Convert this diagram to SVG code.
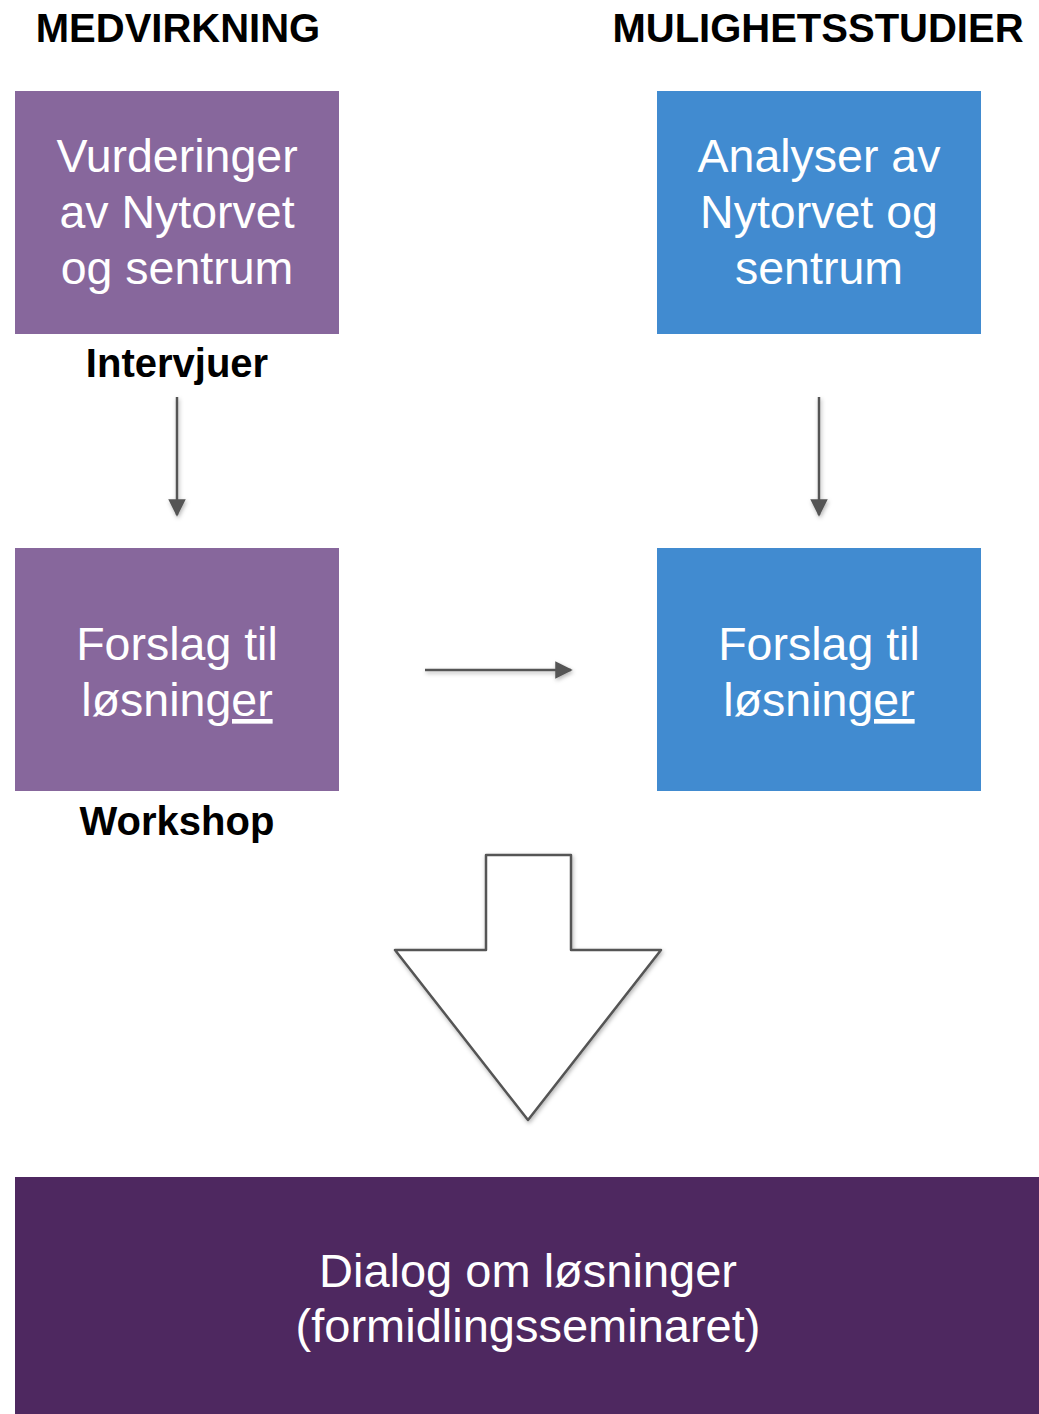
<svg xmlns="http://www.w3.org/2000/svg" width="1039" height="1414" viewBox="0 0 1039 1414">
<style>
.h{font-family:"Liberation Sans",Arial,sans-serif;font-weight:bold;font-size:40px;fill:#000;text-anchor:middle}
.lbl{font-family:"Liberation Sans",Arial,sans-serif;font-weight:bold;font-size:40px;fill:#000;text-anchor:middle}
.t{font-family:"Liberation Sans",Arial,sans-serif;font-size:46.5px;fill:#fff;text-anchor:middle}
.b{font-size:47px}
.c{stroke:#555;stroke-width:2.5;fill:none}
.u{text-decoration:underline}
</style>
<defs>
<marker id="ah" viewBox="0 0 10 10" refX="9" refY="5" markerWidth="7" markerHeight="7" markerUnits="strokeWidth" orient="auto">
<path d="M0,0 L10,5 L0,10 z" fill="#555"/>
</marker>
<filter id="sh" x="-10%" y="-10%" width="130%" height="130%">
<feDropShadow dx="1" dy="2" stdDeviation="2" flood-color="#000" flood-opacity="0.3"/>
</filter>
</defs>
<rect width="1039" height="1414" fill="#fff"/>
<text class="h" x="178" y="42">MEDVIRKNING</text>
<text class="h" x="818" y="42">MULIGHETSSTUDIER</text>
<g id="n1">
<rect x="15" y="91" width="324" height="243" fill="#87679c"/>
<text class="t" x="177" y="172">Vurderinger</text>
<text class="t" x="177" y="228">av Nytorvet</text>
<text class="t" x="177" y="284">og sentrum</text>
</g>
<text class="lbl" x="177" y="377">Intervjuer</text>
<g id="n2">
<rect x="657" y="91" width="324" height="243" fill="#418bd0"/>
<text class="t" x="819" y="172">Analyser av</text>
<text class="t" x="819" y="228">Nytorvet og</text>
<text class="t" x="819" y="284">sentrum</text>
</g>
<g id="n3">
<rect x="15" y="548" width="324" height="243" fill="#87679c"/>
<text class="t" x="177" y="660">Forslag til</text>
<text class="t" x="177" y="716">løsnin<tspan class="u">ger</tspan></text>
</g>
<text class="lbl" x="177" y="835">Workshop</text>
<g id="n4">
<rect x="657" y="548" width="324" height="243" fill="#418bd0"/>
<text class="t" x="819" y="660">Forslag til</text>
<text class="t" x="819" y="716">løsnin<tspan class="u">ger</tspan></text>
</g>
<g id="n5">
<rect x="15" y="1177" width="1024" height="237" fill="#4e2860"/>
<text class="t b" x="528" y="1287">Dialog om løsninger</text>
<text class="t b" x="528" y="1342">(formidlingsseminaret)</text>
</g>
<g id="connectors" filter="url(#sh)">
<line class="c" x1="177" y1="397" x2="177" y2="515" marker-end="url(#ah)"/>
<line class="c" x1="819" y1="397" x2="819" y2="515" marker-end="url(#ah)"/>
<line class="c" x1="425" y1="670" x2="571" y2="670" marker-end="url(#ah)"/>
<polygon points="486,855 571,855 571,950 661,950 528,1120 395,950 486,950" fill="#fff" stroke="#555" stroke-width="2.5" stroke-linejoin="round"/>
</g>
</svg>
